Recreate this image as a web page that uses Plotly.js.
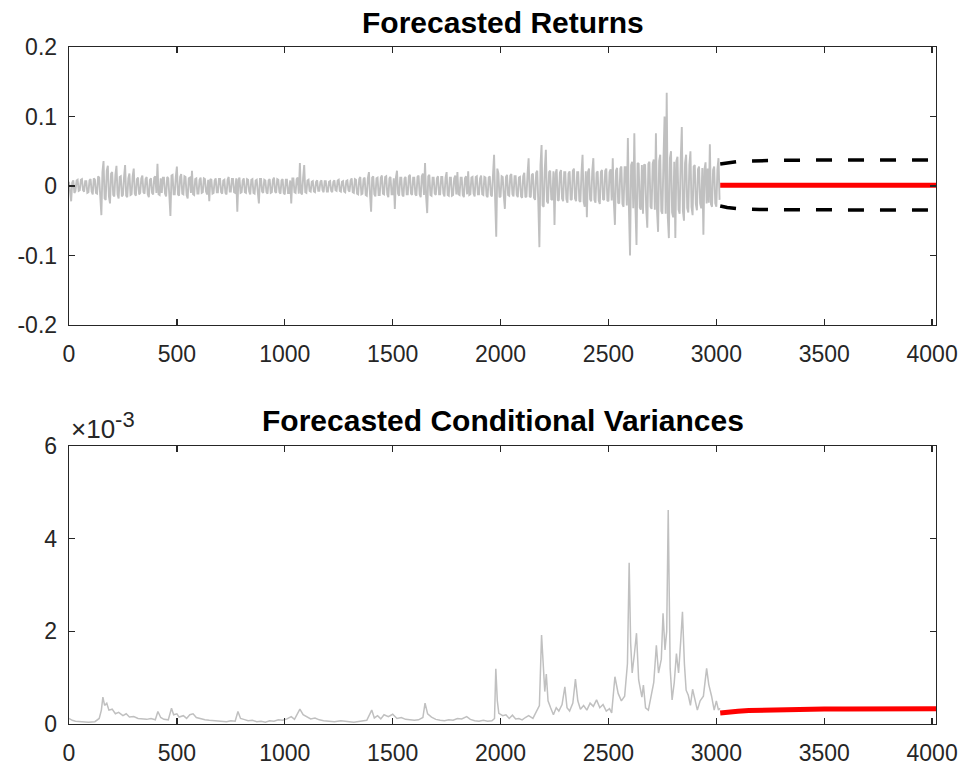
<!DOCTYPE html>
<html>
<head>
<meta charset="utf-8">
<script src="https://cdn.plot.ly/plotly-3.0.1.min.js"></script>
<style>
html,body{margin:0;padding:0;background:#fff;}
#chart{width:962px;height:767px;}
</style>
</head>
<body>
<div id="chart"></div>
<script>
// Observed returns, one reading every 5 time steps (t = 0, 5, 10, ...)
const returnsStep = 5;
const returns = [
  .006,-.009,-.022,.005,.008,-.01,-.007,.008,.009,-.007,-.006,.009,.01,-.006,-.008,.007,.007,-.01,-.009,.008,
  .01,-.008,-.012,.011,.009,-.01,-.011,.014,.012,-.016,-.042,.02,.036,-.018,-.02,.022,.029,-.015,-.025,.018,
  .02,-.013,-.015,.016,.029,-.012,-.018,.013,.014,-.015,-.013,.012,.03,-.014,-.016,.011,.018,-.013,-.012,.014,
  .025,-.011,-.014,.01,.012,-.012,-.01,.011,.015,-.009,-.011,.01,.013,-.012,-.016,.009,.011,-.01,-.012,.012,
  .014,-.01,.032,-.012,-.013,.011,-.01,.012,.012,-.011,-.015,.013,.011,-.014,-.043,.015,.016,-.012,-.012,.013,
  .028,-.012,-.014,.013,.017,-.011,-.012,.014,.013,-.013,-.018,.011,.012,-.01,.022,-.012,-.013,.01,.011,-.011,
  -.011,.009,.012,-.01,-.009,.011,.01,-.008,-.012,.009,-.022,.01,.009,-.011,-.01,.008,.011,-.009,-.009,.01,
  .01,-.009,-.011,.008,.009,-.01,-.012,.009,.013,-.008,-.008,.01,.01,-.009,-.01,.011,-.037,.009,.012,-.01,
  -.009,.008,.011,-.009,-.01,.01,.009,-.008,-.012,.009,.01,-.01,-.011,.008,.009,-.009,-.025,.01,.01,-.008,
  -.01,.009,.008,-.009,-.011,.008,.01,-.01,-.009,.009,.012,-.008,-.01,.01,.009,-.009,-.011,.008,.01,-.01,
  -.012,.009,.009,-.01,-.01,.008,-.025,.011,.011,-.009,-.01,.01,.012,-.011,.033,-.01,-.012,.012,.03,-.009,
  -.01,.008,.009,-.007,-.008,.006,.007,-.008,-.009,.006,.008,-.007,-.007,.006,.008,-.006,-.009,.007,.007,-.008,
  -.008,.006,.007,-.007,-.009,.006,.008,-.006,-.007,.008,.009,-.007,-.008,.006,.007,-.008,-.009,.007,.008,-.006,
  -.008,.008,.011,-.009,-.01,.01,.009,-.011,-.012,.01,.013,-.012,-.011,.01,.012,-.013,-.014,.011,.02,-.012,
  -.037,.012,.014,-.012,-.015,.011,.012,-.013,-.013,.012,.015,-.011,-.012,.013,.014,-.012,-.016,.011,.013,-.012,
  -.012,.011,-.033,.012,.022,-.011,-.014,.012,.012,-.013,-.015,.011,.013,-.012,-.012,.014,.016,-.011,-.013,.012,
  .012,-.012,-.014,.013,.015,-.012,-.016,.014,.018,-.013,.033,-.015,-.039,.014,.016,-.013,-.014,.012,.012,-.011,
  -.013,.011,.014,-.012,-.012,.013,.013,-.011,-.015,.012,.02,-.013,-.014,.012,.012,-.014,-.013,.011,.015,-.012,
  .02,-.012,-.013,.012,.012,-.013,-.016,.011,.014,-.012,.021,-.013,-.012,.012,.013,-.011,-.015,.013,.014,-.012,
  -.012,.011,.015,-.012,-.013,.013,.012,-.014,-.016,.012,.014,-.013,-.015,.016,.045,-.02,-.073,.025,.018,-.016,
  -.015,.014,.013,-.014,-.033,.013,.016,-.013,-.014,.015,.017,-.012,-.015,.014,.014,-.013,-.016,.012,.013,-.015,
  -.017,.014,.019,-.016,-.015,.017,.04,-.015,-.016,.016,.018,-.017,-.02,.019,.022,-.025,-.088,.03,.059,-.028,
  -.03,.025,.052,-.022,-.025,.02,.022,-.019,-.02,.021,-.056,.018,.024,-.02,-.021,.019,.023,-.018,-.022,.02,
  .02,-.019,-.024,.018,.021,-.02,-.019,.022,.025,-.018,-.022,.02,.02,-.021,-.023,.019,.045,-.022,-.03,.021,
  -.045,.02,.025,-.019,-.022,.021,.04,-.02,-.024,.019,.021,-.021,-.026,.02,.023,-.019,-.02,.022,.025,-.021,
  -.022,.02,.024,-.021,.04,-.023,-.056,.022,.026,-.024,-.025,.025,.028,-.026,-.03,.027,.027,-.028,.069,-.035,
  -.1,.03,.035,-.032,.076,-.03,-.085,.033,.032,-.031,-.034,.03,-.04,.031,.03,-.033,-.06,.032,.035,-.03,
  -.033,.032,.038,-.034,.076,-.035,-.066,.036,.045,-.036,-.04,.038,.1,-.04,.134,-.045,-.075,.04,.05,-.038,
  -.045,.035,-.075,.036,.042,-.034,-.04,.038,.085,-.036,-.05,.033,.045,-.032,-.038,.03,.05,-.03,-.042,.028,
  .03,-.026,-.035,.024,.028,-.025,-.032,.026,-.07,.024,.034,-.025,.025,-.024,.06,-.026,-.03,.023,.028,-.025,
  -.03,.024,.04,-.02
];

// Forecast horizon readings
const fcT     = [3018, 3050, 3100, 3150, 3200, 3300, 3400, 3500, 3700, 4018];
const fcMean  = [0.0012, 0.0012, 0.0012, 0.0012, 0.0012, 0.0012, 0.0012, 0.0012, 0.0012, 0.0012];
const fcUpper = [0.0317, 0.0335, 0.0352, 0.0360, 0.0365, 0.0370, 0.0372, 0.0374, 0.0375, 0.0376];
const fcLower = [-0.0288, -0.0310, -0.0326, -0.0334, -0.0338, -0.0342, -0.0344, -0.0345, -0.0346, -0.0347];

// Observed conditional variances (time, value)
const varT = [0,15,30,60,90,120,140,150,157,165,175,185,200,215,230,250,265,280,300,320,340,360,380,400,412,425,440,460,475,485,500,510,530,545,560,575,590,610,630,650,670,690,710,730,750,770,783,795,810,830,850,870,890,910,930,950,970,990,1010,1030,1045,1070,1085,1100,1120,1140,1160,1180,1200,1230,1260,1290,1320,1350,1380,1403,1415,1430,1445,1460,1480,1500,1520,1540,1560,1580,1600,1620,1640,1650,1662,1680,1700,1720,1740,1760,1780,1800,1820,1843,1860,1880,1900,1920,1940,1960,1972,1978,1985,1992,2010,2025,2040,2055,2070,2085,2100,2115,2130,2150,2165,2180,2190,2198,2205,2212,2220,2232,2245,2258,2270,2285,2298,2308,2320,2335,2347,2358,2370,2385,2400,2415,2430,2445,2460,2475,2490,2505,2515,2530,2545,2560,2575,2588,2596,2603,2610,2620,2630,2640,2655,2662,2672,2685,2698,2710,2722,2732,2745,2753,2762,2770,2777,2786,2795,2805,2815,2825,2835,2843,2852,2860,2870,2880,2890,2900,2912,2925,2940,2955,2965,2978,2990,3000,3010,3017];
const varV = [0.00012,0.00008,0.00006,0.00005,0.00004,0.00005,0.00012,0.0003,0.00058,0.0004,0.00045,0.0003,0.00032,0.00022,0.00025,0.00018,0.00022,0.00015,0.00016,0.00012,0.00011,0.0001,0.00012,0.00009,0.00027,0.00014,0.0001,0.00009,0.00034,0.0002,0.00022,0.00015,0.00018,0.00012,0.0002,0.00022,0.00014,0.00011,0.00009,0.00008,0.00007,0.00006,0.00006,0.00005,0.00007,0.00006,0.00027,0.00012,0.0001,0.00007,0.00008,0.00005,0.00006,0.00004,0.00007,0.00006,0.00009,0.00008,0.00011,0.00016,0.0001,0.00032,0.0002,0.00016,0.00011,0.00013,0.00009,0.00007,0.00006,0.00005,0.00007,0.00005,0.00004,0.00006,0.00008,0.0003,0.00013,0.00018,0.00011,0.0002,0.00016,0.00021,0.00012,0.00014,0.0001,0.00009,0.00008,0.00009,0.00014,0.00045,0.00022,0.00015,0.0001,0.00008,0.00007,0.00009,0.00008,0.00012,0.00011,0.00016,0.0001,0.00007,0.00006,0.00008,0.00006,0.00007,0.00012,0.00119,0.0005,0.00023,0.00018,0.0002,0.00012,0.00019,0.00011,0.00012,0.00009,0.00014,0.00018,0.00012,0.00025,0.0004,0.00192,0.0011,0.0007,0.00108,0.0005,0.00035,0.0002,0.00035,0.00028,0.00042,0.0008,0.00035,0.00028,0.00045,0.00097,0.0005,0.00032,0.0004,0.0003,0.00045,0.00038,0.00052,0.00035,0.00042,0.00028,0.00033,0.00024,0.00102,0.00066,0.0005,0.0006,0.0013,0.00348,0.00174,0.0011,0.0015,0.00196,0.00095,0.00058,0.00084,0.00035,0.0003,0.0006,0.0009,0.0017,0.0011,0.0014,0.00239,0.0016,0.002,0.00462,0.0012,0.00052,0.0009,0.00152,0.0011,0.0018,0.00242,0.0013,0.00073,0.00062,0.0004,0.00075,0.00055,0.0003,0.0005,0.0006,0.0012,0.00085,0.0006,0.0003,0.0005,0.0003,0.00034];

// Forecast conditional variances
const fcVarT = [3018, 3050, 3100, 3150, 3200, 3300, 3400, 3500, 3600, 3800, 4018];
const fcVarV = [0.000237, 0.00026, 0.000275, 0.00029, 0.000298, 0.00031, 0.000318, 0.000322, 0.000325, 0.000328, 0.00033];

// Tick labels
const xTicks = [0, 500, 1000, 1500, 2000, 2500, 3000, 3500, 4000];
const yTopTicks = [-0.2, -0.1, 0, 0.1, 0.2];
const yTopLabels = ['-0.2', '-0.1', '0', '0.1', '0.2'];
const yBotTicks = [0, 0.002, 0.004, 0.006];
const yBotLabels = ['0', '2', '4', '6'];

const FONT = 'Liberation Sans, Arial, Helvetica, sans-serif';
const AX = '#262626';
const GREY = '#c0c0c0';

const traces = [
  {x0: 0, dx: returnsStep, y: returns, type: 'scatter', mode: 'lines',
   line: {color: GREY, width: 1.9}, xaxis: 'x', yaxis: 'y'},
  {x: fcT, y: fcMean, type: 'scatter', mode: 'lines',
   line: {color: '#ff0000', width: 5}, xaxis: 'x', yaxis: 'y'},
  {x: fcT, y: fcUpper, type: 'scatter', mode: 'lines',
   line: {color: '#000000', width: 3.5, dash: '16px,16px'}, xaxis: 'x', yaxis: 'y'},
  {x: fcT, y: fcLower, type: 'scatter', mode: 'lines',
   line: {color: '#000000', width: 3.5, dash: '16px,16px'}, xaxis: 'x', yaxis: 'y'},
  {x: varT, y: varV, type: 'scatter', mode: 'lines',
   line: {color: GREY, width: 1.5}, xaxis: 'x2', yaxis: 'y2'},
  {x: fcVarT, y: fcVarV, type: 'scatter', mode: 'lines',
   line: {color: '#ff0000', width: 5}, xaxis: 'x2', yaxis: 'y2'}
];

function xAxis(anchor) {
  return {
    anchor: anchor, range: [0, 4018], tickvals: xTicks, ticktext: xTicks.map(String),
    showline: true, mirror: 'ticks', linecolor: AX, linewidth: 1.3,
    ticks: 'inside', ticklen: 6, tickcolor: AX, tickwidth: 1.3,
    showgrid: false, zeroline: false, ticklabelstandoff: 8,
    tickfont: {family: FONT, size: 23, color: AX}
  };
}
function yAxis(anchor, dom, range, vals, labels) {
  return {
    anchor: anchor, domain: dom, range: range, tickvals: vals, ticktext: labels,
    showline: true, mirror: 'ticks', linecolor: AX, linewidth: 1.3,
    ticks: 'inside', ticklen: 6, tickcolor: AX, tickwidth: 1.3,
    showgrid: false, zeroline: false, ticklabelstandoff: 6,
    tickfont: {family: FONT, size: 23, color: AX}
  };
}

const layout = {
  width: 962, height: 767,
  margin: {l: 69, r: 26, t: 47, b: 43},
  paper_bgcolor: '#ffffff', plot_bgcolor: '#ffffff',
  showlegend: false, hovermode: false,
  xaxis: xAxis('y'),
  yaxis: yAxis('x', [0.5894, 1], [-0.2, 0.2], yTopTicks, yTopLabels),
  xaxis2: xAxis('y2'),
  yaxis2: yAxis('x2', [0, 0.4106], [0, 0.006], yBotTicks, yBotLabels),
  annotations: [
    {text: '<b>Forecasted Returns</b>', xref: 'paper', yref: 'paper', x: 0.5, y: 1,
     yshift: 25, xanchor: 'center', yanchor: 'middle', showarrow: false,
     font: {family: FONT, size: 30, color: '#000000'}},
    {text: '<b>Forecasted Conditional Variances</b>', xref: 'paper', yref: 'paper', x: 0.5, y: 0.4106,
     yshift: 26, xanchor: 'center', yanchor: 'middle', showarrow: false,
     font: {family: FONT, size: 30, color: '#000000'}},
    {text: '×10<sup><span style="font-size:22px">-3</span></sup>', xref: 'paper', yref: 'paper', x: 0, y: 0.4106,
     xshift: 0, yshift: 0, xanchor: 'left', yanchor: 'bottom', showarrow: false,
     font: {family: FONT, size: 26, color: AX}}
  ]
};

Plotly.newPlot('chart', traces, layout, {displayModeBar: false, staticPlot: true});
</script>
</body>
</html>
